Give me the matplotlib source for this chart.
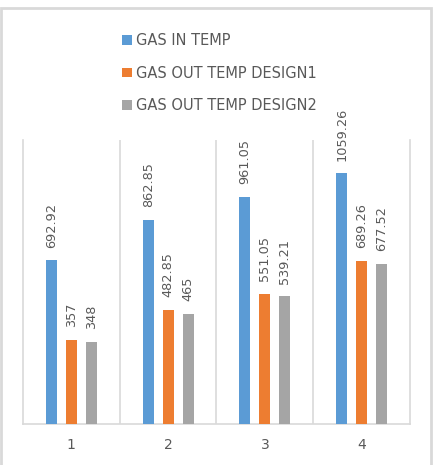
import matplotlib
matplotlib.use("Agg")
import matplotlib.pyplot as plt
from matplotlib.patches import Rectangle
import numpy as np

# chart data
categories = ["1", "2", "3", "4"]
series_names = ["GAS IN TEMP", "GAS OUT TEMP DESIGN1", "GAS OUT TEMP DESIGN2"]
gas_in = [692.92, 862.85, 961.05, 1059.26]
gas_out_d1 = [357, 482.85, 551.05, 689.26]
gas_out_d2 = [348, 465, 539.21, 677.52]

colors = ["#5B9BD5", "#ED7D31", "#A5A5A5"]
text_color = "#595959"
line_color = "#D9D9D9"

fig = plt.figure(figsize=(4.35, 4.65), dpi=100)
ax = fig.add_axes([23 / 435, 41 / 465, 387 / 435, 284 / 465])

x = np.arange(len(categories))
offsets = [-0.206, 0.0, 0.206]
width = 0.113
handles = []
for vals, off, col, name in zip([gas_in, gas_out_d1, gas_out_d2], offsets, colors, series_names):
    bars = ax.bar(x + off, vals, width, color=col, label=name, zorder=3)
    ax.bar_label(bars, labels=["{:g}".format(v) for v in vals], rotation=90,
                 padding=9, fontsize=9.3, color=text_color)
    handles.append(bars)

ax.set_xlim(-0.5, len(categories) - 0.5)
ax.set_ylim(0, 1200)
ax.set_yticks([])
ax.set_xticks(x)
ax.set_xticklabels(categories, fontsize=10, color=text_color)
ax.tick_params(axis="x", length=0, pad=10)
ax.set_xticks(np.arange(0.5, len(categories) - 1), minor=True)
ax.tick_params(axis="x", which="minor", length=0)
ax.grid(axis="x", which="minor", color=line_color, linewidth=1.2)
for side in ["left", "right", "bottom"]:
    ax.spines[side].set_color(line_color)
    ax.spines[side].set_linewidth(1.2)
ax.spines["top"].set_visible(False)

fig.legend(handles=handles, loc="upper left", bbox_to_anchor=(109 / 435, 1 - 20 / 465),
           frameon=False, fontsize=10.5, labelcolor=text_color, handlelength=0.65,
           handleheight=0.65, handletextpad=0.3, labelspacing=1.2)

# outer chart frame
fig.patches.append(Rectangle((1 / 435, -0.05), 430 / 435, 1.05 - 8 / 465,
                             transform=fig.transFigure, fill=False,
                             edgecolor=line_color, linewidth=2))

fig.savefig("out.png", dpi=100)
